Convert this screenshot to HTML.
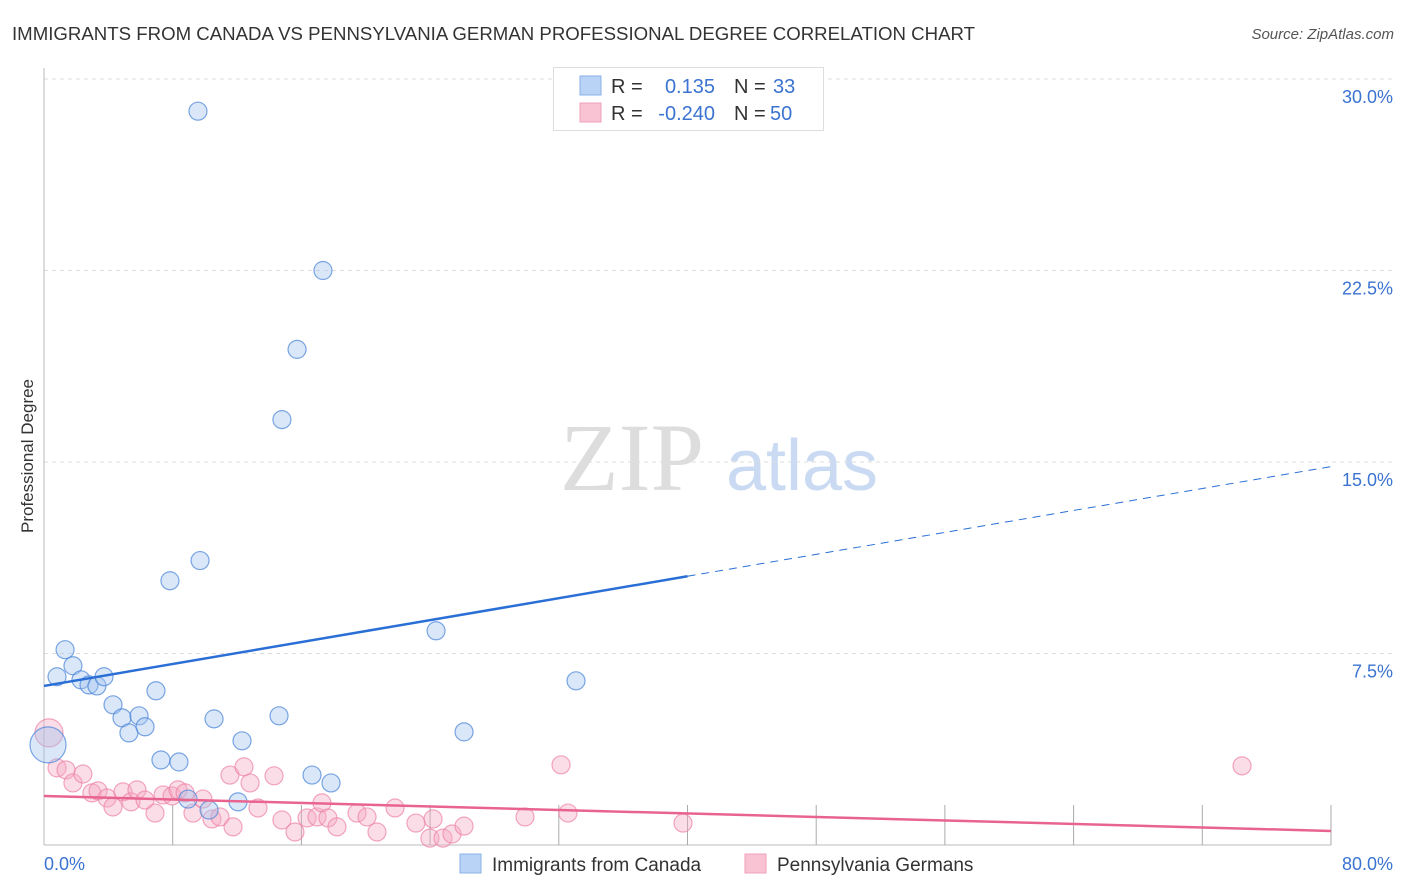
<!DOCTYPE html>
<html><head><meta charset="utf-8"><style>
body{margin:0;background:#fff;font-family:"Liberation Sans",sans-serif;}
svg{display:block}
</style></head><body>
<svg id="chart" width="1406" height="892" xmlns="http://www.w3.org/2000/svg" font-family="Liberation Sans, sans-serif">
<text x="12" y="40" font-size="18" fill="#333" textLength="963" lengthAdjust="spacingAndGlyphs">IMMIGRANTS FROM CANADA VS PENNSYLVANIA GERMAN PROFESSIONAL DEGREE CORRELATION CHART</text>
<text x="1394" y="39" font-size="15" fill="#555" text-anchor="end" font-style="italic">Source: ZipAtlas.com</text>
<text transform="translate(33,456) rotate(-90)" font-size="17" fill="#333" text-anchor="middle">Professional Degree</text>
<g>
<text x="632" y="490" font-size="96" fill="#ddd" font-family="Liberation Serif, serif" text-anchor="middle">ZIP</text>
<text x="802" y="490" font-size="72" fill="#c9daf2" text-anchor="middle">atlas</text>
</g>
<g id="grid"></g><g id="axes"></g><g id="marks"></g>
<g>
<rect x="553.5" y="67.5" width="270" height="63" fill="#fff" stroke="#ddd"/>
<rect x="580" y="76" width="21" height="19" fill="#b8d3f5" stroke="#8ab2e6"/>
<rect x="580" y="103" width="21" height="19" fill="#f9c3d3" stroke="#f0a0b8"/>
<text x="611" y="93" font-size="20" fill="#333">R =</text>
<text x="715" y="93" font-size="20" fill="#3b73d1" text-anchor="end">0.135</text>
<text x="734" y="93" font-size="20" fill="#333">N =</text>
<text x="773" y="93" font-size="20" fill="#3b73d1">33</text>
<text x="611" y="120" font-size="20" fill="#333">R =</text>
<text x="715" y="120" font-size="20" fill="#3b73d1" text-anchor="end">-0.240</text>
<text x="734" y="120" font-size="20" fill="#333">N =</text>
<text x="770" y="120" font-size="20" fill="#3b73d1">50</text>
</g>
<g>
<rect x="460" y="854" width="21" height="19" fill="#b8d3f5" stroke="#8ab2e6"/>
<text x="492" y="871" font-size="19" fill="#333">Immigrants from Canada</text>
<rect x="745" y="854" width="21" height="19" fill="#f9c3d3" stroke="#f0a0b8"/>
<text x="777" y="871" font-size="19" fill="#333">Pennsylvania Germans</text>
</g>
</svg>
<script>
const xTicks=[0,8,16,24,32,40,48,56,64,72,80];
const yTicks=[7.5,15,22.5,30];
const yTickLabels=["7.5%","15.0%","22.5%","30.0%"];
const blueX=[9.57,17.34,15.73,14.79,9.70,7.83,24.37,33.07,1.31,1.80,0.81,2.30,2.80,3.29,3.73,6.96,4.29,4.85,5.91,5.28,6.28,10.57,14.61,12.31,26.11,7.27,8.39,8.95,10.26,12.06,16.66,17.84,0.25];
const blueY=[28.74,22.50,19.41,16.66,11.14,10.35,8.39,6.43,7.65,7.02,6.59,6.47,6.27,6.23,6.59,6.04,5.49,4.98,5.06,4.39,4.63,4.94,5.06,4.08,4.43,3.33,3.25,1.80,1.37,1.69,2.74,2.43,3.92];
const pinkX=[0.31,0.81,1.37,1.80,2.42,2.98,3.36,3.92,4.29,4.91,5.41,5.78,6.28,6.90,7.40,7.96,8.33,8.77,9.26,9.88,10.44,10.94,11.56,11.75,12.43,12.81,13.30,14.30,14.79,15.60,16.35,16.97,17.28,17.65,18.21,19.46,20.08,20.70,21.82,23.12,24.18,23.99,24.80,25.36,26.11,29.90,32.14,32.57,39.72,74.47];
const pinkY=[4.39,3.02,2.94,2.43,2.78,2.04,2.12,1.84,1.49,2.08,1.69,2.16,1.76,1.25,1.96,1.92,2.16,2.04,1.25,1.80,1.02,1.10,2.74,0.71,3.06,2.43,1.45,2.71,0.98,0.51,1.06,1.10,1.65,1.06,0.71,1.25,1.10,0.51,1.45,0.86,1.02,0.27,0.27,0.43,0.74,1.10,3.14,1.25,0.86,3.10];
const blueTrend=[6.23,14.82];
const pinkTrend=[1.92,0.55];
const blueSolidEnd=40;

const NS="http://www.w3.org/2000/svg";
const X0=44,X1=1331,Y0=845,Y1=79;
const sx=v=>X0+(v/80)*(X1-X0);
const sy=v=>Y0-(v/30)*(Y0-Y1);
function mk(tag,attrs,parent){const e=document.createElementNS(NS,tag);for(const k in attrs)e.setAttribute(k,attrs[k]);parent.appendChild(e);return e;}
const grid=document.getElementById('grid'),axes=document.getElementById('axes'),marks=document.getElementById('marks');
yTicks.forEach((t,i)=>{
 const l=mk('line',{x1:X0,x2:1394,y1:sy(t),y2:sy(t),stroke:'#ddd','stroke-dasharray':'4,4'},grid);
 
 
 const tx=mk('text',{x:1393,y:sy(t)+24,'font-size':18,fill:'#3b73d1','text-anchor':'end'},axes);
 tx.textContent=yTickLabels[i];
 
 
});
const ax=mk('line',{x1:X0,x2:X0,y1:68,y2:Y0,stroke:'#bbb'},axes);


const bx=mk('line',{x1:X0,x2:X1,y1:Y0,y2:Y0,stroke:'#bbb'},axes);


xTicks.forEach(t=>{if(t===0)return;
 const l=mk('line',{x1:sx(t),x2:sx(t),y1:Y0-40,y2:Y0,stroke:'#aaa'},axes);
 
 });
const xl0=mk('text',{x:44,y:870,'font-size':18,fill:'#3b73d1'},axes);xl0.textContent=xTicks[0].toFixed(1)+'%';


const xl1=mk('text',{x:1393,y:870,'font-size':18,fill:'#3b73d1','text-anchor':'end'},axes);xl1.textContent=xTicks[xTicks.length-1].toFixed(1)+'%';


pinkX.forEach((v,i)=>{
 const c=mk('circle',{cx:sx(v),cy:sy(pinkY[i]),r:i===0?14:9,fill:'rgba(246,170,195,0.4)',stroke:'rgba(236,130,165,0.7)','stroke-width':1.2},marks);
 
 
});
blueX.forEach((v,i)=>{
 const c=mk('circle',{cx:sx(v),cy:sy(blueY[i]),r:i===blueX.length-1?18:9,fill:'rgba(160,196,240,0.4)',stroke:'rgba(70,130,215,0.7)','stroke-width':1.2},marks);
 
 
});
const by=x=>blueTrend[0]+(blueTrend[1]-blueTrend[0])*x/80;
const bl=mk('line',{x1:sx(0),y1:sy(by(0)),x2:sx(blueSolidEnd),y2:sy(by(blueSolidEnd)),stroke:'#2a6fd6','stroke-width':2.5},marks);


const bd=mk('line',{x1:sx(blueSolidEnd),y1:sy(by(blueSolidEnd)),x2:sx(80),y2:sy(by(80)),stroke:'#2a6fd6','stroke-width':1,'stroke-dasharray':'8,6'},marks);


const pl=mk('line',{x1:sx(0),y1:sy(pinkTrend[0]),x2:sx(80),y2:sy(pinkTrend[1]),stroke:'#e8648f','stroke-width':2.5},marks);


</script>
</body></html>
